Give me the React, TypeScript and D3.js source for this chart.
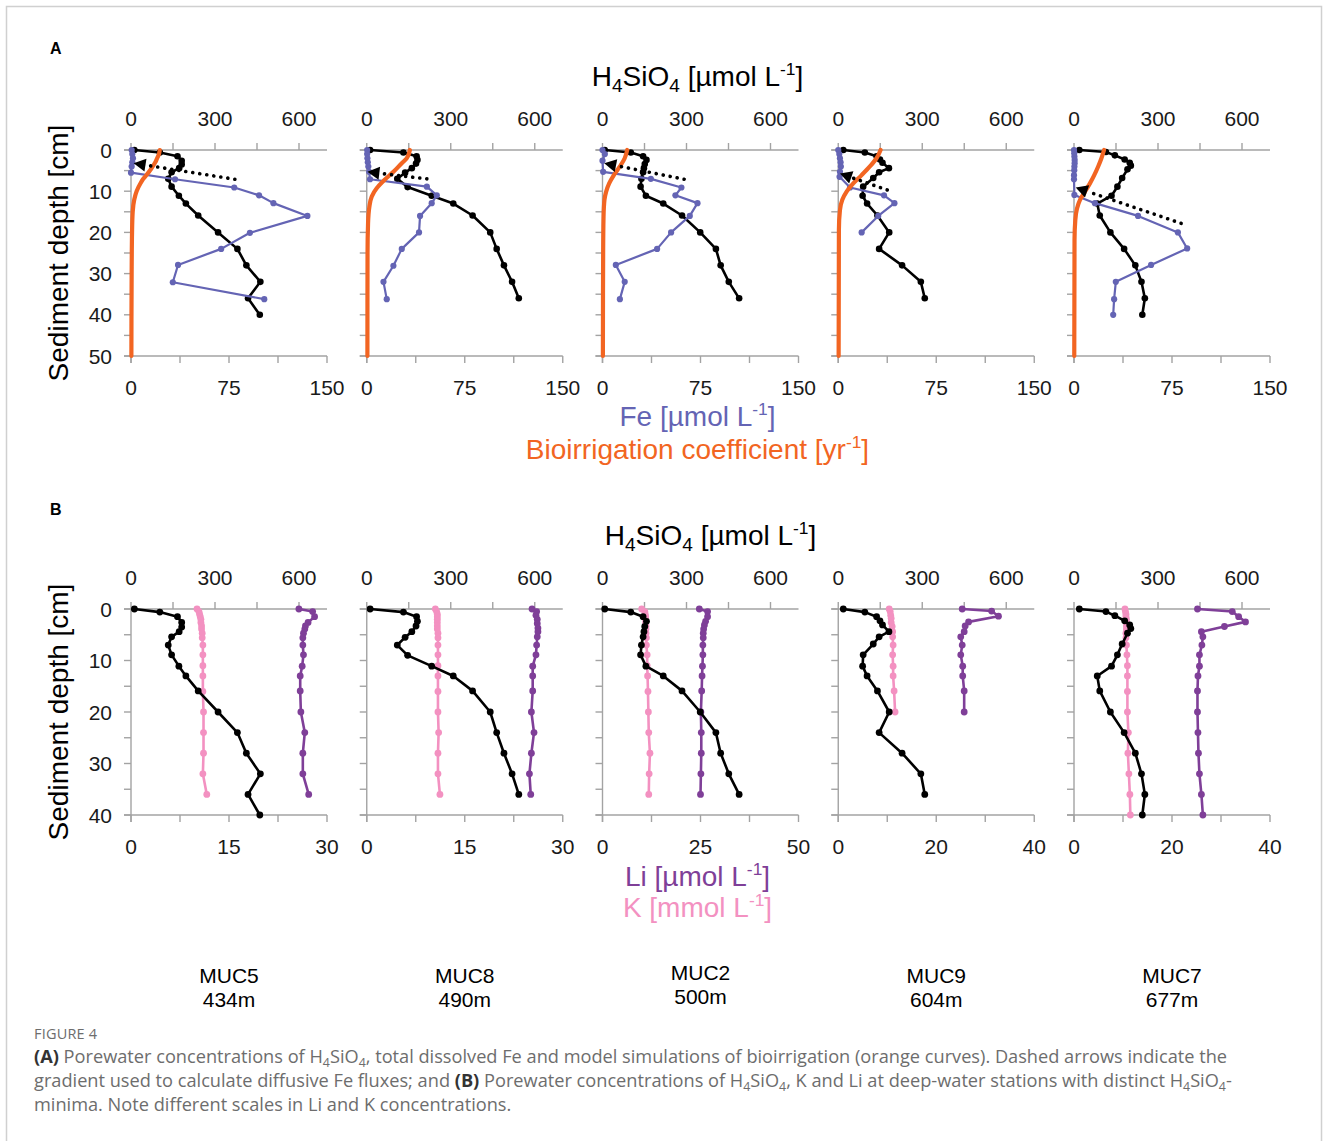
import React from 'react';
import * as d3 from 'd3';

// stations and water depths
const stations = ['MUC5', 'MUC8', 'MUC2', 'MUC9', 'MUC7'];
const waterDepths = ['434m', '490m', '500m', '604m', '677m'];

// ticks
const siTicks = [0, 150, 300, 450, 600];
const siLabels = [0, 300, 600];
const feTicks = [0, 37.5, 75, 112.5, 150];
const feLabels = [0, 75, 150];
const depthTicksA = [0, 5, 10, 15, 20, 25, 30, 35, 40, 45, 50];
const depthLabelsA = [0, 10, 20, 30, 40, 50];
const depthTicksB = [0, 5, 10, 15, 20, 25, 30, 35, 40];
const depthLabelsB = [0, 10, 20, 30, 40];
const liMax = [30, 30, 50, 40, 40];
const liTicks = [
  [0, 7.5, 15, 22.5, 30],
  [0, 7.5, 15, 22.5, 30],
  [0, 12.5, 25, 37.5, 50],
  [0, 10, 20, 30, 40],
  [0, 10, 20, 30, 40],
];
const liLabels = [[0, 15, 30], [0, 15, 30], [0, 25, 50], [0, 20, 40], [0, 20, 40]];

// H4SiO4 [depth cm, umol/L]
const muc5Si = [[0, 12], [0.6, 103], [1.5, 166], [2.6, 181], [3.5, 181], [4.4, 172], [5.4, 145], [7, 133], [8.9, 145], [11.1, 171], [13, 196], [15.9, 240], [20, 311], [24, 380], [28, 412], [32, 462], [36, 418], [40, 460]];
const muc8Si = [[0, 12], [0.6, 131], [1.5, 178], [2.4, 181], [3.3, 176], [4.4, 161], [5.5, 137], [7, 109], [9, 146], [11.1, 232], [13, 309], [15.9, 378], [20, 441], [24, 464], [28, 490], [32, 519], [36, 543]];
const muc2Si = [[0, 8], [0.6, 101], [1.5, 145], [2.4, 157], [3.4, 151], [4.4, 148], [5.4, 145], [7, 139], [8.9, 136], [11.1, 155], [13, 217], [15.9, 284], [20, 349], [24, 405], [28, 422], [32, 451], [36, 488]];
const muc9Si = [[0, 18], [0.6, 95], [1.5, 137], [2.3, 149], [3.1, 158], [4.4, 181], [5.4, 146], [6.8, 125], [8.9, 89], [11.1, 87], [13, 103], [15.9, 140], [20, 182], [24, 146], [28, 228], [32, 295], [36, 309]];
const muc7Si = [[0, 19], [0.5, 114], [1.3, 146], [2.3, 181], [3.1, 199], [3.8, 203], [4.7, 191], [6.8, 172], [8.9, 155], [11.1, 134], [13, 83], [15.9, 92], [20, 130], [24, 179], [28, 219], [32, 241], [36, 253], [40, 244]];

// Fe [depth cm, umol/L]
const muc5Fe = [[0, 0.5], [1, 1], [2, 1.5], [3, 1], [4, 0.5], [5.5, 0], [7.1, 33.7], [9.1, 79], [11, 98], [12.9, 109], [16, 135], [20.1, 91], [24, 69], [27.9, 36], [32.1, 32], [36.2, 102]];
const muc8Fe = [[0, 0.3], [1, 0.3], [2, 0.5], [3, 0.8], [4, 1.2], [5.3, 1.8], [7.1, 2.5], [8.9, 46], [11, 53.6], [12.9, 49.7], [16, 40.8], [20, 40], [24, 26.8], [28.1, 20.4], [32, 12.8], [36.2, 15.3]];
const muc2Fe = [[0, 0], [1, 1.8], [2.6, 0], [5.3, 0.5], [7, 37], [9.1, 60.4], [11, 55.8], [12.9, 72.7], [16, 66.8], [20, 52.5], [24, 41.8], [27.9, 10.2], [32, 17], [36.2, 13.3]];
const muc9Fe = [[0, 0], [1, 0.8], [2, 1.3], [3, 1.8], [4, 2], [5.3, 1.3], [6.5, 1], [9.1, 9], [11, 35], [12.9, 43], [16, 30.6], [20, 17.9]];
const muc7Fe = [[0, 0], [0.8, 0.2], [1.6, 0.3], [2.4, 0.5], [3.2, 0.5], [4, 0.3], [4.9, 0.2], [6.1, 0], [7.1, 0], [10.9, 0.3], [12.9, 16], [16, 49], [20, 79.5], [23.9, 86.6], [27.9, 59], [32, 32], [36.2, 30.7], [40, 30]];

// bioirrigation coefficient [depth cm, yr-1]
const muc5Bio = [[0, 22], [1, 21.4], [2, 20], [3, 18.6], [4, 16.6], [5, 14.5], [6, 12], [7, 9.4], [8, 7.4], [10, 4.3], [12, 2.5], [15, 1.3], [20, 0.8], [30, 0.5], [50, 0.3]];
const muc8Bio = [[0, 33], [2, 30.6], [3.2, 26.8], [5.3, 20.4], [7.3, 13.5], [9.3, 7.6], [11.3, 3.8], [13.8, 2], [17.8, 1], [25, 0.6], [50, 0.5]];
const muc2Bio = [[0, 18.9], [2, 17], [4, 13.3], [6.1, 8.7], [8.1, 5.1], [10.1, 2.8], [12.1, 1.5], [16.2, 0.8], [25, 0.5], [50, 0.3]];
const muc9Bio = [[0, 32.4], [2, 29.3], [4, 24.2], [6.1, 17.9], [8.1, 11.5], [10.1, 6.4], [12.1, 3.1], [14.6, 1.3], [19.4, 0.5], [50, 0.3]];
const muc7Bio = [[0, 23], [2, 21], [4, 18.5], [6.1, 15.5], [8.1, 12.2], [10.1, 8.4], [12.1, 4.6], [14.2, 2.3], [17, 1], [21.8, 0.4], [50, 0.2]];

// Fe gradient arrows [tip depth, tip Fe, tail depth, tail Fe]
const muc5Arrow = [3.2, 2, 7.1, 79.5];
const muc8Arrow = [5.3, 0.5, 7.0, 46];
const muc2Arrow = [3.2, 1.3, 7.1, 62.5];
const muc9Arrow = [5.7, 1.3, 9.7, 37.5];
const muc7Arrow = [9.1, 1.3, 17.8, 82];

// K [depth cm, mmol/L]
const muc5K = [[0, 10.1], [0.5, 10.4], [1, 10.5], [1.5, 10.6], [2, 10.7], [2.6, 10.7], [3.3, 10.8], [3.9, 10.8], [4.7, 10.9], [5.6, 10.9], [7, 11], [8.9, 11], [11, 11], [13, 11], [16, 11], [20, 11.1], [24, 11.1], [28, 11.1], [32, 11], [36, 11.6]];
const muc8K = [[0, 10.5], [0.5, 10.7], [1, 10.8], [1.5, 10.8], [2, 10.8], [2.6, 10.8], [3.3, 10.8], [3.9, 10.8], [4.7, 10.9], [5.6, 10.9], [7, 10.9], [8.9, 10.9], [11, 10.9], [13, 10.9], [16, 10.9], [20, 10.9], [24, 11], [28, 10.9], [32, 10.9], [36, 11.2]];
const muc2K = [[0, 10], [0.5, 10.8], [1, 10.9], [1.5, 11], [2, 11], [2.6, 11], [3.3, 11.1], [3.9, 11.1], [4.7, 11.1], [5.6, 11.2], [7, 11.2], [8.9, 11.4], [11, 11.4], [13, 11.5], [16, 11.6], [20, 11.7], [24, 11.8], [28, 12.1], [32, 11.9], [36, 11.8]];
const muc9K = [[0, 10.4], [0.5, 10.6], [1.2, 10.7], [1.8, 10.8], [2.6, 10.8], [3.4, 11], [4.4, 11.1], [5.4, 11.1], [7, 11.2], [8.9, 11.1], [11.1, 11.2], [13, 11.2], [15.9, 11.4], [20, 11.6]];
const muc7K = [[0, 10.4], [0.5, 10.5], [1, 10.6], [1.5, 10.6], [2, 10.7], [2.6, 10.7], [3.3, 10.7], [3.9, 10.7], [4.7, 10.6], [5.6, 10.6], [7, 10.7], [8.9, 10.8], [11, 10.9], [13, 10.9], [16, 10.9], [20, 10.9], [24, 11.1], [28, 11], [32, 11.2], [36, 11.4], [40, 11.5]];

// Li [depth cm, umol/L]
const muc5Li = [[0, 25.7], [0.5, 27.8], [1.5, 28.1], [2.6, 27.1], [3.3, 26.7], [3.9, 26.6], [4.7, 26.4], [5.6, 26.3], [7, 26.3], [8.9, 26.4], [11.1, 26.2], [13, 25.9], [15.9, 25.9], [20, 26], [24, 26.6], [28, 26.3], [32, 26.3], [36, 27.2]];
const muc8Li = [[0, 25.3], [0.5, 26], [1.2, 25.9], [2, 26.1], [2.8, 26.1], [3.7, 26.2], [4.4, 26.2], [5.4, 26.1], [7, 26], [8.9, 25.9], [11.1, 25.4], [13, 25.4], [15.9, 25.4], [20, 25.2], [24, 25.6], [28, 25.2], [32, 24.9], [36, 25.1]];
const muc2Li = [[0, 24.7], [0.5, 26.8], [1.5, 26.8], [2.4, 26.3], [3.1, 26], [3.9, 25.8], [4.7, 25.7], [5.6, 25.7], [7, 25.6], [8.9, 25.6], [11.1, 25.5], [13, 25.4], [15.9, 25.3], [20, 25.1], [24, 25.2], [28, 25.2], [32, 25.1], [36, 25]];
const muc9Li = [[0, 25.3], [0.4, 31.3], [1.4, 32.7], [2.5, 26.6], [3.3, 25.9], [4.4, 25.7], [5.4, 25], [7, 25.3], [8.9, 25], [11.1, 25.4], [13, 25.4], [15.9, 25.7], [20, 25.7]];
const muc7Li = [[0, 25.2], [0.5, 32.3], [1.5, 33.6], [2.5, 35], [3.4, 30.7], [4.4, 26], [5.4, 26.3], [7, 26.1], [8.9, 25.6], [11.1, 25.6], [13, 25.3], [15.9, 25.2], [20, 25.2], [24, 25.3], [28, 25.4], [32, 25.6], [36, 26], [40, 26.3]];

const siData = [muc5Si, muc8Si, muc2Si, muc9Si, muc7Si];
const feData = [muc5Fe, muc8Fe, muc2Fe, muc9Fe, muc7Fe];
const bioData = [muc5Bio, muc8Bio, muc2Bio, muc9Bio, muc7Bio];
const arrowData = [muc5Arrow, muc8Arrow, muc2Arrow, muc9Arrow, muc7Arrow];
const kData = [muc5K, muc8K, muc2K, muc9K, muc7K];
const liData = [muc5Li, muc8Li, muc2Li, muc9Li, muc7Li];

const FONT = 'Liberation Sans, Arial, Helvetica, sans-serif';
const AXIS = '#a3a3a3';
const BLUE = '#6464b4';
const ORANGE = '#f26522';
const PINK = '#f391c1';
const PURPLE = '#7f3f98';

const LEFT = 131;
const STEP = 235.75;
const PW = 196;
const A_TOP = 150;
const A_BOT = 356;
const B_TOP = 609;
const B_BOT = 815;

// subscript / superscript helpers (shift in em of the small font)
const Sub = ({ c }: { c: string }) => (
  <tspan baselineShift="-0.3em" fontSize="0.68em">{c}</tspan>
);
const Sup = ({ c }: { c: string }) => (
  <tspan baselineShift="0.65em" fontSize="0.62em">{c}</tspan>
);

function Series({ data, x, y, color, r, width, dots = true, smooth = false }: any) {
  const line = d3
    .line<number[]>()
    .x(d => x(d[1]))
    .y(d => y(d[0]))
    .curve(smooth ? d3.curveMonotoneY : d3.curveLinear);
  return (
    <g>
      <path d={line(data) || ''} fill="none" stroke={color} strokeWidth={width} strokeLinejoin="round" strokeLinecap="round" />
      {dots && data.map((d: number[], i: number) => (
        <circle key={i} cx={x(d[1])} cy={y(d[0])} r={r} fill={color} />
      ))}
    </g>
  );
}

function Arrow({ a, x, y }: any) {
  const tx = x(a[1]);
  const ty = y(a[0]);
  const ex = x(a[3]);
  const ey = y(a[2]);
  const len = Math.hypot(ex - tx, ey - ty);
  const ux = (ex - tx) / len;
  const uy = (ey - ty) / len;
  const hl = 12;
  const hw = 6.5;
  const bx = tx + ux * hl;
  const by = ty + uy * hl;
  const head = `M${tx},${ty}L${bx - uy * hw},${by + ux * hw}L${bx + uy * hw},${by - ux * hw}Z`;
  return (
    <g>
      <line x1={ex} y1={ey} x2={bx} y2={by} stroke="#000" strokeWidth={3.6} strokeDasharray="0.1 7" strokeLinecap="round" />
      <path d={head} fill="#000" />
    </g>
  );
}

function Frame({ x0, top, bot, depthTicks, depthLabels, depth, showY, bottomTicks, bottomLabels, bottomScale, si }: any) {
  return (
    <g fontFamily={FONT} fill="#1a1a1a">
      <line x1={x0 - 7} x2={x0 + PW} y1={top} y2={top} stroke={AXIS} strokeWidth={1.4} />
      <line x1={x0 - 7} x2={x0 + PW} y1={bot} y2={bot} stroke={AXIS} strokeWidth={1.4} />
      <line x1={x0} x2={x0} y1={top} y2={bot + 7} stroke={AXIS} strokeWidth={1.4} />
      {depthTicks.map((t: number) => (
        <line key={'d' + t} x1={x0 - 7} x2={x0} y1={depth(t)} y2={depth(t)} stroke={AXIS} strokeWidth={1.4} />
      ))}
      {siTicks.map(t => (
        <line key={'s' + t} x1={si(t)} x2={si(t)} y1={top - 7} y2={top} stroke={AXIS} strokeWidth={1.4} />
      ))}
      {bottomTicks.map((t: number) => (
        <line key={'b' + t} x1={bottomScale(t)} x2={bottomScale(t)} y1={bot} y2={bot + 7} stroke={AXIS} strokeWidth={1.4} />
      ))}
      {siLabels.map(t => (
        <text key={'sl' + t} x={si(t)} y={top - 24} textAnchor="middle" fontSize={21}>{t}</text>
      ))}
      {bottomLabels.map((t: number) => (
        <text key={'bl' + t} x={bottomScale(t)} y={bot + 39} textAnchor="middle" fontSize={21}>{t}</text>
      ))}
      {showY && depthLabels.map((t: number) => (
        <text key={'dl' + t} x={x0 - 19} y={depth(t) + 7.5} textAnchor="end" fontSize={21}>{t}</text>
      ))}
    </g>
  );
}

export default function App() {
  const cx = LEFT + 2 * STEP + PW / 2 - 3;
  return (
    <svg width={1328} height={1141} style={{ position: 'absolute', left: 0, top: 0, background: '#fff' }}>
      <rect x={6.5} y={6.5} width={1315} height={1160} fill="none" stroke="#d0d0d0" strokeWidth={1.5} />

      {/* Panel A */}
      <text x={50} y={54} fontFamily={FONT} fontWeight="bold" fontSize={16}>A</text>
      <text x={cx} y={86} fontFamily={FONT} fontSize={28} textAnchor="middle">
        H<Sub c="4" />SiO<Sub c="4" /> [µmol L<Sup c="-1" />]
      </text>
      <text transform={`translate(68,${(A_TOP + A_BOT) / 2}) rotate(-90)`} fontFamily={FONT} fontSize={28} textAnchor="middle">
        Sediment depth [cm]
      </text>
      {stations.map((s, i) => {
        const x0 = LEFT + i * STEP;
        const si = d3.scaleLinear().domain([0, 700]).range([x0, x0 + PW]);
        const fe = d3.scaleLinear().domain([0, 150]).range([x0, x0 + PW]);
        const depth = d3.scaleLinear().domain([0, 50]).range([A_TOP, A_BOT]);
        return (
          <g key={'a' + s}>
            <Frame x0={x0} top={A_TOP} bot={A_BOT} depth={depth} depthTicks={depthTicksA} depthLabels={depthLabelsA}
              showY={i === 0} bottomTicks={feTicks} bottomLabels={feLabels} bottomScale={fe} si={si} />
            <Series data={siData[i]} x={si} y={depth} color="#000" r={3.3} width={2.6} />
            <Series data={feData[i]} x={fe} y={depth} color={BLUE} r={3.1} width={2.2} />
            <Series data={bioData[i]} x={fe} y={depth} color={ORANGE} width={4.2} dots={false} smooth />
            <Arrow a={arrowData[i]} x={fe} y={depth} />
          </g>
        );
      })}
      <text x={cx} y={426} fontFamily={FONT} fontSize={28} textAnchor="middle" fill={BLUE}>
        Fe [µmol L<Sup c="-1" />]
      </text>
      <text x={cx} y={459} fontFamily={FONT} fontSize={28} textAnchor="middle" fill={ORANGE}>
        Bioirrigation coefficient [yr<Sup c="-1" />]
      </text>

      {/* Panel B */}
      <text x={50} y={515} fontFamily={FONT} fontWeight="bold" fontSize={16}>B</text>
      <text x={cx + 13} y={545} fontFamily={FONT} fontSize={28} textAnchor="middle">
        H<Sub c="4" />SiO<Sub c="4" /> [µmol L<Sup c="-1" />]
      </text>
      <text transform={`translate(68,${(B_TOP + B_BOT) / 2}) rotate(-90)`} fontFamily={FONT} fontSize={28} textAnchor="middle">
        Sediment depth [cm]
      </text>
      {stations.map((s, i) => {
        const x0 = LEFT + i * STEP;
        const si = d3.scaleLinear().domain([0, 700]).range([x0, x0 + PW]);
        const li = d3.scaleLinear().domain([0, liMax[i]]).range([x0, x0 + PW]);
        const depth = d3.scaleLinear().domain([0, 40]).range([B_TOP, B_BOT]);
        return (
          <g key={'b' + s}>
            <Frame x0={x0} top={B_TOP} bot={B_BOT} depth={depth} depthTicks={depthTicksB} depthLabels={depthLabelsB}
              showY={i === 0} bottomTicks={liTicks[i]} bottomLabels={liLabels[i]} bottomScale={li} si={si} />
            <Series data={kData[i]} x={li} y={depth} color={PINK} r={3.4} width={2.6} />
            <Series data={liData[i]} x={li} y={depth} color={PURPLE} r={3.4} width={2.6} />
            <Series data={siData[i]} x={si} y={depth} color="#000" r={3.4} width={2.6} />
          </g>
        );
      })}
      <text x={cx} y={886} fontFamily={FONT} fontSize={28} textAnchor="middle" fill={PURPLE}>
        Li [µmol L<Sup c="-1" />]
      </text>
      <text x={cx} y={917} fontFamily={FONT} fontSize={28} textAnchor="middle" fill={PINK}>
        K [mmol L<Sup c="-1" />]
      </text>

      {/* station labels */}
      {stations.map((s, i) => {
        const x = LEFT + i * STEP + PW / 2;
        const dy = i === 2 ? -3 : 0;
        return (
          <g key={'l' + s} fontFamily={FONT} fontSize={21} textAnchor="middle">
            <text x={x} y={983 + dy}>{s}</text>
            <text x={x} y={1007 + dy}>{waterDepths[i]}</text>
          </g>
        );
      })}

      {/* caption */}
      <g fontFamily="Open Sans, Noto Sans, sans-serif" fill="#6d6d6d">
        <text x={34} y={1039} fontSize={14.5} letterSpacing={0.2}>FIGURE 4</text>
        <text x={34} y={1063} fontSize={18.2}>
          <tspan fontWeight="bold" fill="#333">(A)</tspan> Porewater concentrations of H<Sub c="4" />SiO<Sub c="4" />, total dissolved Fe and model simulations of bioirrigation (orange curves). Dashed arrows indicate the
        </text>
        <text x={34} y={1087} fontSize={18.2}>
          gradient used to calculate diffusive Fe fluxes; and <tspan fontWeight="bold" fill="#333">(B)</tspan> Porewater concentrations of H<Sub c="4" />SiO<Sub c="4" />, K and Li at deep-water stations with distinct H<Sub c="4" />SiO<Sub c="4" />-
        </text>
        <text x={34} y={1111} fontSize={18.2}>
          minima. Note different scales in Li and K concentrations.
        </text>
      </g>
    </svg>
  );
}
